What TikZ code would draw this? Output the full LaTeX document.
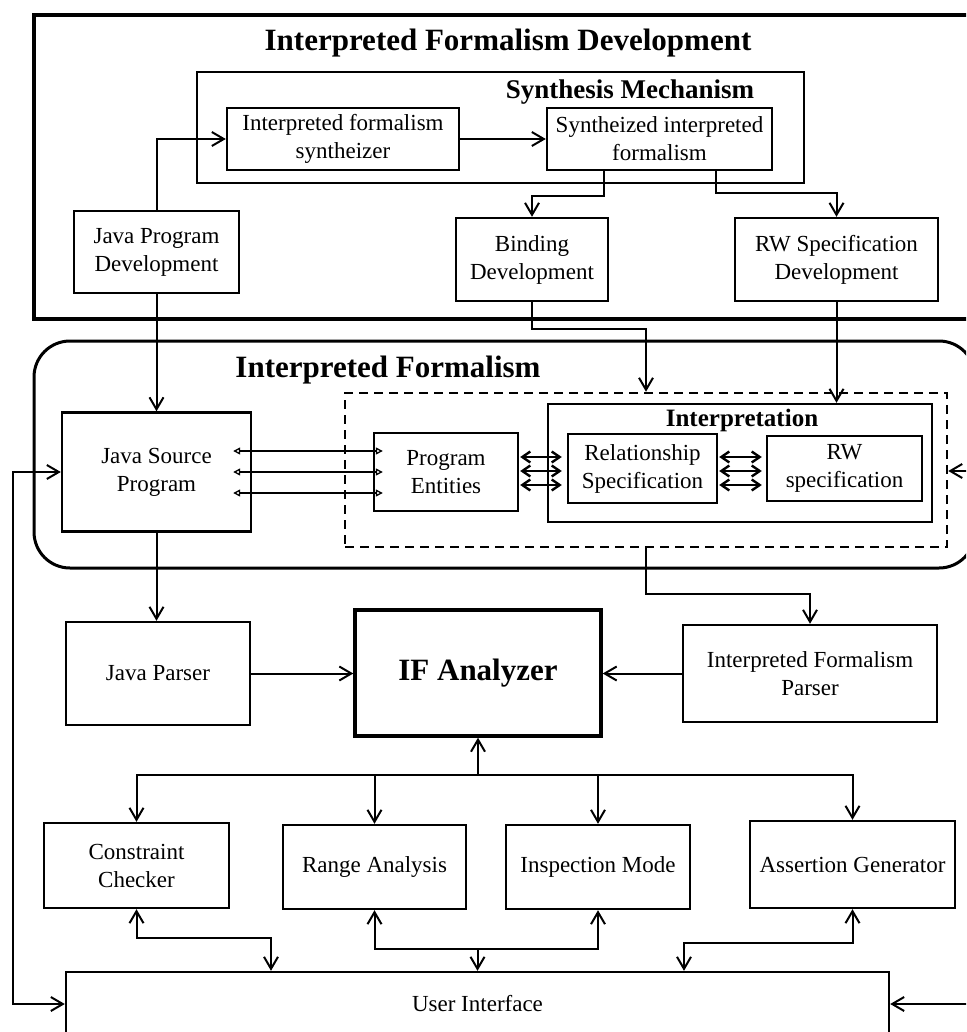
\documentclass[tikz,border=0pt]{standalone}
\usepackage{fontspec}
\setmainfont{Liberation Serif}
\usetikzlibrary{arrows.meta,calc}

\tikzset{
  box/.style={draw, rectangle, line width=2.4pt, align=center, inner sep=2pt,
    font=\fontsize{23}{28}\selectfont},
  frame/.style={draw, rectangle, line width=3.2pt},
  ttl/.style={inner sep=0pt, font=\bfseries\fontsize{31}{34}\selectfont},
  conn/.style={line width=2pt, -{Straight Barb[length=12pt,width=14pt]}},
  bconn/.style={line width=2pt,
    {Straight Barb[length=12pt,width=14pt]}-{Straight Barb[length=12pt,width=14pt]}},
  link/.style={line width=2.4pt,
    {Straight Barb[length=8pt,width=11pt]}-{Straight Barb[length=8pt,width=11pt]}},
  ref/.style={line width=1.3pt,
    {Triangle[open,length=7pt,width=7pt]}-{Triangle[open,length=7pt,width=7pt]}},
}

\begin{document}
\begin{tikzpicture}[x=1pt,y=-1pt]
\useasboundingbox (0,0) rectangle (966,1032);
\clip (0,0) rectangle (966,1032);

% ---- development stage ----
\node[frame, minimum width=950pt, minimum height=304pt] (ifd) at (509,167) {};
\node[ttl] (ifdt) at (508,43) {Interpreted Formalism Development};

\node[frame, line width=2.6pt, minimum width=607pt, minimum height=111pt] (syn) at (500.5,127.5) {};
\node[ttl, font=\bfseries\fontsize{27}{30}\selectfont] (synt) at (630,92) {Synthesis Mechanism};

\node[box, minimum width=232pt, minimum height=62pt] (ifs) at (343,139) {Interpreted formalism\\syntheizer};
\node[box, minimum width=225pt, minimum height=62pt] (sif) at (659.5,139) {Syntheized interpreted\\formalism};

\node[box, minimum width=165pt, minimum height=82pt] (jpd) at (156.5,252) {Java Program\\Development};
\node[box, minimum width=152pt, minimum height=83pt] (bind) at (532,259.5) {Binding\\Development};
\node[box, minimum width=203pt, minimum height=83pt] (rwd) at (836.5,259.5) {RW Specification\\Development};

% ---- interpreted formalism ----
\node[draw, line width=3pt, rounded corners=36pt, minimum width=941pt, minimum height=227pt] (ifr) at (504.5,454.5) {};
\node[ttl] (ifrt) at (388,370) {Interpreted Formalism};

\node[draw, line width=2.5pt, dash pattern=on 9pt off 6pt, minimum width=602pt, minimum height=154pt] (dsh) at (646,470) {};

\node[box, minimum width=189pt, minimum height=119pt] (jsp) at (156.5,472) {Java Source\\Program};
\node[box, minimum width=384pt, minimum height=118pt] (interp) at (740,463) {};
\node[ttl, font=\bfseries\fontsize{25}{28}\selectfont] (interpt) at (742,420) {Interpretation};
\node[box, minimum width=144pt, minimum height=78pt] (pe) at (446,472) {Program\\Entities};
\node[box, minimum width=149pt, minimum height=69pt] (rs) at (642.5,468.5) {Relationship\\Specification};
\node[box, minimum width=155pt, minimum height=65pt] (rws) at (844.5,468.5) {RW\\specification};

% ---- analysis ----
\node[box, minimum width=184pt, minimum height=103pt] (jp) at (158,673.5) {Java Parser};
\node[box, line width=3.4pt, minimum width=246pt, minimum height=126pt,
  font=\bfseries\fontsize{31}{34}\selectfont] (ifa) at (478,673) {IF Analyzer};
\node[box, minimum width=254pt, minimum height=97pt] (ifp) at (810,673.5) {Interpreted Formalism\\Parser};

\node[box, minimum width=185pt, minimum height=85pt] (cc) at (136.5,865.5) {Constraint\\Checker};
\node[box, minimum width=183pt, minimum height=84pt] (ra) at (374.5,867) {Range Analysis};
\node[box, minimum width=184pt, minimum height=84pt] (im) at (598,867) {Inspection Mode};
\node[box, minimum width=205pt, minimum height=87pt] (ag) at (852.5,864.5) {Assertion Generator};
\node[box, minimum width=823pt, minimum height=64pt] (ui) at (477.5,1004) {User Interface};

% ---- connectors: development ----
\draw[conn] (jpd.north) |- (ifs.west);
\draw[conn] (ifs.east) -- (sif.west);
\draw[conn] ([xshift=-55.5pt]sif.south) -- ++(0,25) -| (bind.north);
\draw[conn] ([xshift=56.5pt]sif.south) -- ++(0,22) -| (rwd.north);
\draw[conn] (jpd.south) -- (jsp.north);
\draw[conn] (bind.south) -- ++(0,27) -| (dsh.north);
\draw[conn] (rwd.south) -- (rwd.south |- interp.north);

% ---- connectors: inside the formalism ----
\foreach \dy in {-21,0,21}
  \draw[ref] ([shift={(-19,\dy)}]jsp.east) -- ([shift={(10,\dy)}]pe.west);
\foreach \yy in {457,471,485} {
  \draw[link, shorten <=1pt, shorten >=5pt] (pe.east |- 0,\yy) -- (rs.west |- 0,\yy);
  \draw[link, shorten <=1pt, shorten >=4pt] (rs.east |- 0,\yy) -- (rws.west |- 0,\yy);
}

% ---- connectors: parsers and analyzer ----
\draw[conn] (jsp.south) -- (jsp.south |- jp.north);
\draw[conn] (dsh.south) -- ++(0,46) -| (ifp.north);
\draw[conn] (jp.east) -- (jp.east -| ifa.west);
\draw[conn] (ifp.west) -- (ifp.west -| ifa.east);

\coordinate (bus) at (478,775);
\draw[conn] (bus) -- (ifa.south);
\foreach \n in {cc,ra,im,ag}
  \draw[conn] (bus) -| (\n.north);

% ---- connectors: tools and user interface ----
\draw[bconn] (cc.south) -- ++(0,29) -| ([xshift=-206.5pt]ui.north);
\coordinate (mid) at (477.5,949);
\draw[conn] (mid) -- (ui.north);
\draw[conn] (mid) -| (ra.south);
\draw[conn] (mid) -| (im.south);
\draw[bconn] (ag.south) -- ++(0,34) -| ([xshift=206.5pt]ui.north);

\draw[bconn] (jsp.west) -- ++(-48,0) |- (ui.west);
\coordinate (rin1) at (972,471);
\draw[conn] (rin1) -- (rin1 -| dsh.east);
\coordinate (rin2) at (972,1004);
\draw[conn] (rin2) -- (ui.east);
\end{tikzpicture}
\end{document}
